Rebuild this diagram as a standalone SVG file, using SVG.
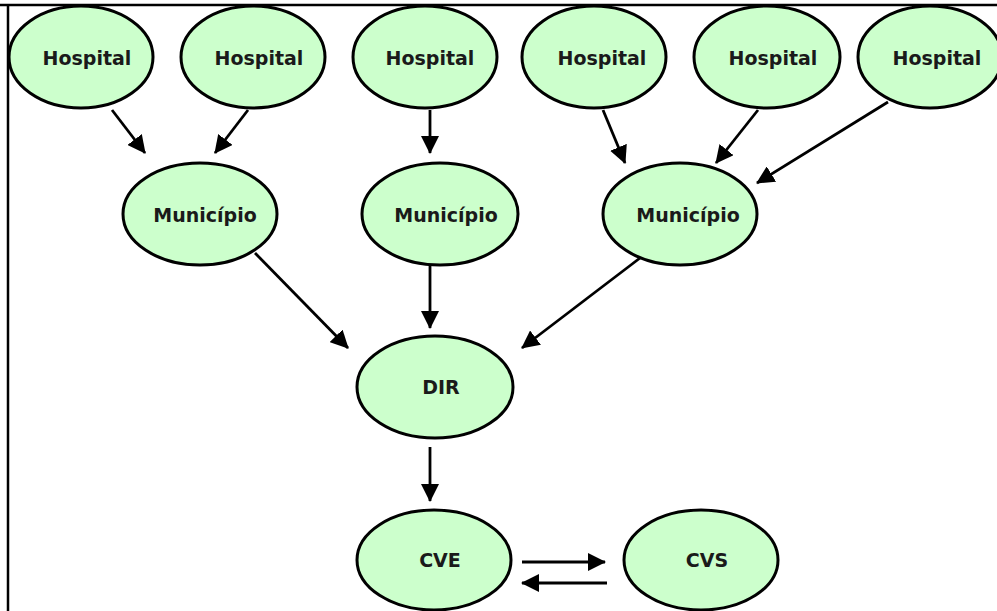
<svg xmlns="http://www.w3.org/2000/svg" width="997" height="611" viewBox="0 0 997 611">
<style>
.n ellipse{fill:#ccffcc;stroke:#000;stroke-width:3}
.n text{font-family:"DejaVu Sans",Verdana,sans-serif;font-weight:bold;font-size:19px;fill:#1a1a1a;text-anchor:middle}
.c line{stroke:#000;stroke-width:2.8;marker-end:url(#ah)}
</style>
<defs>
<marker id="ah" markerUnits="userSpaceOnUse" markerWidth="18" markerHeight="18" refX="17" refY="9" orient="auto">
<path d="M0,0 L18,9 L0,18 z" fill="#000"/>
</marker>
</defs>
<rect width="997" height="611" fill="#fff"/>
<g id="h1" class="n"><ellipse cx="81" cy="57" rx="72" ry="51"/><text x="87" y="65">Hospital</text></g>
<g id="h2" class="n"><ellipse cx="253" cy="57" rx="72" ry="51"/><text x="259" y="65">Hospital</text></g>
<g id="h3" class="n"><ellipse cx="425" cy="57" rx="72" ry="51"/><text x="430" y="65">Hospital</text></g>
<g id="h4" class="n"><ellipse cx="594" cy="57" rx="72" ry="51"/><text x="602" y="65">Hospital</text></g>
<g id="h5" class="n"><ellipse cx="767" cy="57" rx="73" ry="51"/><text x="773" y="65">Hospital</text></g>
<g id="h6" class="n"><ellipse cx="930" cy="57" rx="72" ry="51"/><text x="937" y="65">Hospital</text></g>
<g id="m1" class="n"><ellipse cx="200" cy="214" rx="77" ry="51"/><text x="205" y="222">Município</text></g>
<g id="m2" class="n"><ellipse cx="440" cy="214" rx="78" ry="51"/><text x="446" y="222">Município</text></g>
<g id="m3" class="n"><ellipse cx="680" cy="214" rx="77" ry="51"/><text x="688" y="222">Município</text></g>
<g id="dir" class="n"><ellipse cx="435" cy="387" rx="78" ry="51"/><text x="441" y="394">DIR</text></g>
<g id="cve" class="n"><ellipse cx="434" cy="560" rx="77" ry="50"/><text x="440" y="567">CVE</text></g>
<g id="cvs" class="n"><ellipse cx="701" cy="560" rx="77" ry="50"/><text x="707" y="567">CVS</text></g>
<g id="connectors" class="c">
<line x1="112" y1="110" x2="145" y2="153"/>
<line x1="248" y1="110" x2="215" y2="153"/>
<line x1="430" y1="110" x2="430" y2="153"/>
<line x1="603" y1="110" x2="625" y2="163"/>
<line x1="758" y1="110" x2="716" y2="163"/>
<line x1="888" y1="102" x2="757" y2="183"/>
<line x1="255" y1="253" x2="348" y2="348"/>
<line x1="430" y1="265" x2="430" y2="328"/>
<line x1="640" y1="258" x2="522" y2="348"/>
<line x1="430" y1="447" x2="430" y2="501"/>
<line x1="522" y1="562" x2="605" y2="562"/>
<line x1="607" y1="583" x2="522" y2="583"/>
</g>
<g id="frame" stroke="#000" stroke-width="2.5" fill="none">
<line x1="0" y1="5" x2="997" y2="5"/>
<line x1="8" y1="4" x2="8" y2="611"/>
</g>
</svg>
